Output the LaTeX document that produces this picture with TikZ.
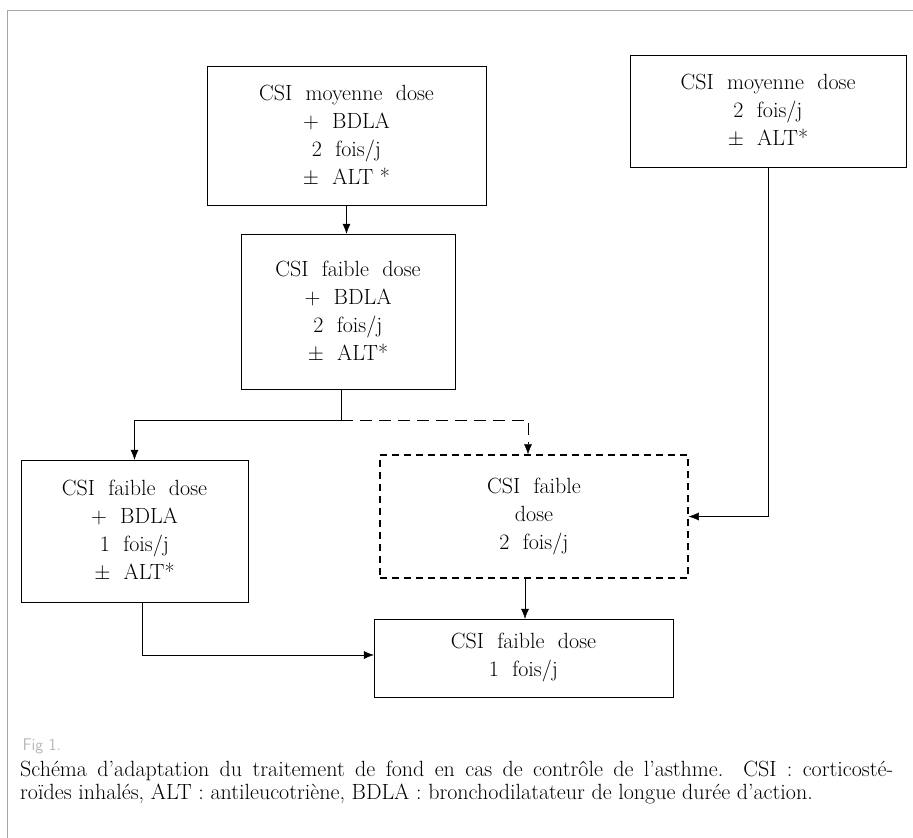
\documentclass[tikz,border=0pt]{standalone}
\usepackage{tikz}
\usetikzlibrary{arrows.meta,positioning,calc}

\begin{document}
\begin{tikzpicture}[x=1pt,y=-1pt,
  stepbox/.style={rectangle,draw,align=center,font=\fontsize{22}{28}\selectfont},
  dashbox/.style={stepbox,line width=1.5pt,dash pattern=on 7pt off 5pt},
  link/.style={-{Latex[length=10pt,width=8pt]}}]
\useasboundingbox (0,0) rectangle (913,838);
% Frame
\draw[gray!70] (7,838) -- (7,10) -- (913,10);

% Treatment steps
\node[stepbox,minimum width=279pt,minimum height=139pt] (moyBDLA) at (346.5,135.5) {CSI\ \ moyenne\ \ dose\\+\ \ BDLA\\2\ \ fois/j\\$\pm$\ \ ALT\ *};
\node[stepbox,minimum width=276pt,minimum height=112pt] (moy) at (768,111) {CSI\ \ moyenne\ \ dose\\2\ \ fois/j\\$\pm$\ \ ALT*};
\node[stepbox,minimum width=214pt,minimum height=155pt] (faibBDLA) at (348,311.5) {CSI\ \ faible\ \ dose\\+\ \ BDLA\\2\ \ fois/j\\$\pm$\ \ ALT*};
\node[stepbox,minimum width=227pt,minimum height=142pt] (faibBDLAun) at (134.5,531) {CSI\ \ faible\ \ dose\\+\ \ BDLA\\1\ \ fois/j\\$\pm$\ \ ALT*};
\node[dashbox,minimum width=308pt,minimum height=123pt] (faib) at (534,516.5) {CSI\ \ faible\\dose\\2\ \ fois/j};
\node[stepbox,minimum width=299pt,minimum height=78pt] (faibun) at (523.5,658) {CSI\ \ faible\ \ dose\\1\ \ fois/j};

% Connectors
\coordinate (split) at ($(faibBDLA.south)+(-7,31)$);
\draw[link] (moyBDLA.south) -- (moyBDLA.south |- faibBDLA.north);
\draw (faibBDLA.south -| split) -- (split);
\draw[link] (split) -| (faibBDLAun.north);
\draw[link,dash pattern=on 12pt off 7pt] (split) -| ([xshift=-6pt]faib.north);
\draw[link] (moy.south) |- (faib.east);
\draw[link] ([xshift=8pt]faibBDLAun.south) |- ([yshift=3pt]faibun.west);
\draw[link] ([xshift=-9pt]faib.south) -- ([xshift=-9pt]faib.south |- faibun.north);

% Caption
\node[anchor=west,text=gray!55,font=\sffamily\fontsize{17}{18}\selectfont] (fig) at (19,746) {Fig 1.};
\node[anchor=north west,align=justify,text width=873pt,inner sep=0pt,font=\fontsize{22}{23}\selectfont] (caption) at (20,761) {Sch\'ema d'adaptation du traitement de fond en cas de contr\^ole de l'asthme. CSI : corticost\'e-\linebreak ro\"ides inhal\'es, ALT : antileucotri\`ene, BDLA : bronchodilatateur de longue dur\'ee d'action.};
\end{tikzpicture}
\end{document}
